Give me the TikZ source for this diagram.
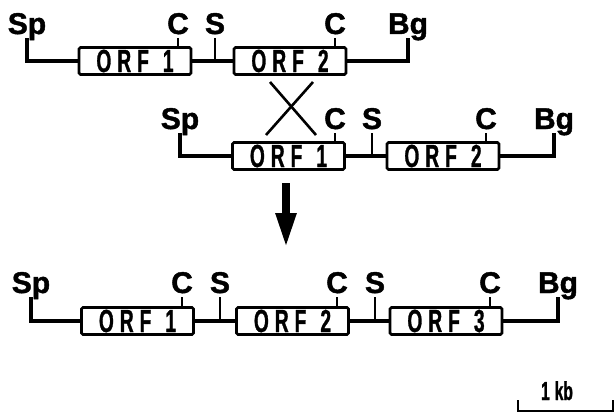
\documentclass[tikz,border=0pt]{standalone}
\usepackage{fontspec}
\setmainfont{Liberation Sans}
\newfontfamily\labfont[FakeBold=1.4]{Liberation Sans Bold}
\newfontfamily\orffont[FakeStretch=0.6,FakeBold=0.9]{Liberation Sans Bold}
\newcommand\orftxt[1]{O\kern6pt R\kern6pt F\kern14pt #1}
\usetikzlibrary{arrows.meta}
\tikzset{
  dnaline/.style={line width=3.4pt, line join=miter},
  tickline/.style={line width=2.6pt},
  orfbox/.style={draw, line width=2.6pt, rounded corners=1.5pt, fill=white,
    minimum width=112pt, minimum height=27pt, inner sep=0pt,
    font=\orffont\fontsize{32}{32}\selectfont},
  lab/.style={anchor=base, yshift=4pt, inner sep=0pt,
    font=\labfont\fontsize{30}{30}\selectfont},
  crossline/.style={line width=2.6pt},
  bigarrow/.style={line width=8pt, -{Triangle[length=35pt,width=19pt]}},
}
\begin{document}
\begin{tikzpicture}[x=1pt,y=-1pt]
\useasboundingbox (0,0) rectangle (616,415);
% ---------------- row 1
\coordinate (r1sp) at (27,38);
\coordinate (r1c1) at (178,38);
\coordinate (r1s)  at (215,38);
\coordinate (r1c2) at (335,38);
\coordinate (r1bg) at (408,38);
\node[orfbox] (r1o1) at (135,61) {\orftxt{1}};
\node[orfbox] (r1o2) at (290,61) {\orftxt{2}};
\draw[dnaline] (r1sp) |- (r1o1.west);
\draw[dnaline] (r1o1.east) -- (r1o2.west);
\draw[dnaline] (r1o2.east) -| (r1bg);
\draw[tickline] (r1s) -- (r1s |- r1o1.east);
\draw[tickline] (r1c1) -- (r1c1 |- r1o1.north);
\draw[tickline] (r1c2) -- (r1c2 |- r1o2.north);
\node[lab] (l1sp) at (r1sp) {Sp};
\node[lab] (l1c1) at (r1c1) {C};
\node[lab] (l1s)  at (r1s)  {S};
\node[lab] (l1c2) at (r1c2) {C};
\node[lab] (l1bg) at (r1bg) {Bg};
% ---------------- crossover
\coordinate (xa) at (270,82);
\coordinate (xb) at (313,82);
\coordinate (xc) at (266,135);
\coordinate (xd) at (316,135);
\draw[crossline] (xa) -- (xd);
\draw[crossline] (xb) -- (xc);
% ---------------- row 2
\coordinate (r2sp) at (180,133);
\coordinate (r2c1) at (335,133);
\coordinate (r2s)  at (372,133);
\coordinate (r2c2) at (486,133);
\coordinate (r2bg) at (554,133);
\node[orfbox] (r2o1) at (288.5,156) {\orftxt{1}};
\node[orfbox] (r2o2) at (443,156) {\orftxt{2}};
\draw[dnaline] (r2sp) |- (r2o1.west);
\draw[dnaline] (r2o1.east) -- (r2o2.west);
\draw[dnaline] (r2o2.east) -| (r2bg);
\draw[tickline] (r2s) -- (r2s |- r2o1.east);
\draw[tickline] (r2c1) -- (r2c1 |- r2o1.north);
\draw[tickline] (r2c2) -- (r2c2 |- r2o2.north);
\node[lab] (l2sp) at (r2sp) {Sp};
\node[lab] (l2c1) at (r2c1) {C};
\node[lab] (l2s)  at (r2s)  {S};
\node[lab] (l2c2) at (r2c2) {C};
\node[lab] (l2bg) at (r2bg) {Bg};
% ---------------- arrow
\coordinate (atop) at (286,183);
\coordinate (abot) at (286,248);
\draw[bigarrow] (atop) -- (abot);
% ---------------- row 3
\coordinate (r3sp) at (31,297);
\coordinate (r3c1) at (182,297);
\coordinate (r3s1) at (220,297);
\coordinate (r3c2) at (337,297);
\coordinate (r3s2) at (375,297);
\coordinate (r3c3) at (490,297);
\coordinate (r3bg) at (558,297);
\node[orfbox] (r3o1) at (137.5,321) {\orftxt{1}};
\node[orfbox] (r3o2) at (292.5,321) {\orftxt{2}};
\node[orfbox] (r3o3) at (446,321) {\orftxt{3}};
\draw[dnaline] (r3sp) |- (r3o1.west);
\draw[dnaline] (r3o1.east) -- (r3o2.west);
\draw[dnaline] (r3o2.east) -- (r3o3.west);
\draw[dnaline] (r3o3.east) -| (r3bg);
\draw[tickline] (r3s1) -- (r3s1 |- r3o1.east);
\draw[tickline] (r3s2) -- (r3s2 |- r3o2.east);
\draw[tickline] (r3c1) -- (r3c1 |- r3o1.north);
\draw[tickline] (r3c2) -- (r3c2 |- r3o2.north);
\draw[tickline] (r3c3) -- (r3c3 |- r3o3.north);
\node[lab] (l3sp) at (r3sp) {Sp};
\node[lab] (l3c1) at (r3c1) {C};
\node[lab] (l3s1) at (r3s1) {S};
\node[lab] (l3c2) at (r3c2) {C};
\node[lab] (l3s2) at (r3s2) {S};
\node[lab] (l3c3) at (r3c3) {C};
\node[lab] (l3bg) at (r3bg) {Bg};
% ---------------- scale bar
\coordinate (sbl) at (518,400);
\coordinate (sbr) at (613,400);
\draw[tickline, line join=miter] (sbl) -- ++(0,11) -| (sbr);
\node[anchor=base, inner sep=0pt, font=\orffont\fontsize{26}{26}\selectfont] (kb) at (557,400) {1\kern5pt kb};
\end{tikzpicture}
\end{document}
